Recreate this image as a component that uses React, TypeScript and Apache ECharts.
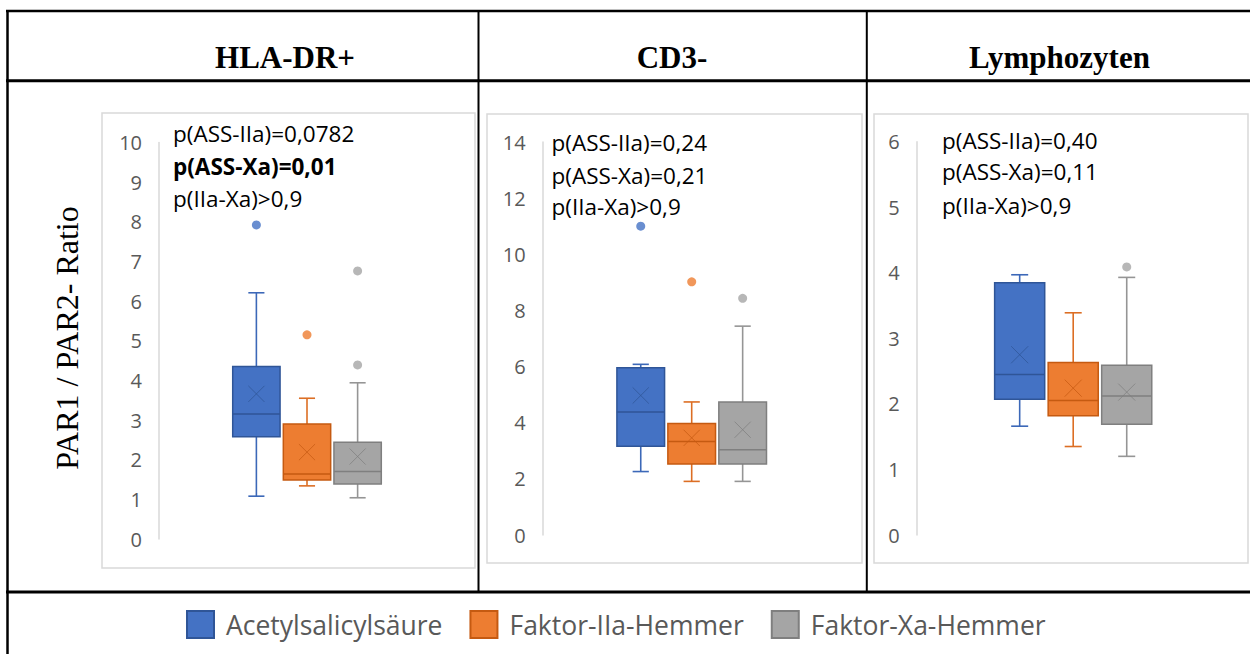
import React, { useEffect, useRef } from "react";
import * as echarts from "echarts";

// ---------- data ----------
const groupNames = ["Acetylsalicylsäure", "Faktor-IIa-Hemmer", "Faktor-Xa-Hemmer"];
const panelTitles = ["HLA-DR+", "CD3-", "Lymphozyten"];
const yAxisTitle = "PAR1 / PAR2- Ratio";

// box values per group: [min, q1, median, q3, max]
const hlaBoxes = [
  [1.08, 2.58, 3.15, 4.35, 6.21],
  [1.34, 1.49, 1.64, 2.9, 3.55],
  [1.04, 1.39, 1.7, 2.44, 3.94],
];
const hlaMeans = [3.66, 2.19, 2.08];
const hlaOutliers = [[7.92], [5.15], [6.76, 4.39]];
const hlaPValues = ["p(ASS-IIa)=0,0782", "p(ASS-Xa)=0,01", "p(IIa-Xa)>0,9"];
const hlaPBold = [false, true, false];

const cd3Boxes = [
  [2.26, 3.16, 4.38, 5.96, 6.08],
  [1.91, 2.53, 3.33, 3.97, 4.74],
  [1.91, 2.53, 3.04, 4.74, 7.44],
];
const cd3Means = [4.97, 3.46, 3.75];
const cd3Outliers = [[11.0], [9.02], [8.43]];
const cd3PValues = ["p(ASS-IIa)=0,24", "p(ASS-Xa)=0,21", "p(IIa-Xa)>0,9"];
const cd3PBold = [false, false, false];

const lymBoxes = [
  [1.66, 2.07, 2.45, 3.85, 3.97],
  [1.35, 1.82, 2.05, 2.63, 3.39],
  [1.2, 1.69, 2.12, 2.59, 3.93],
];
const lymMeans = [2.75, 2.24, 2.18];
const lymOutliers = [[], [], [4.09]];
const lymPValues = ["p(ASS-IIa)=0,40", "p(ASS-Xa)=0,11", "p(IIa-Xa)>0,9"];
const lymPBold = [false, false, false];

const yMaxes = [10, 14, 6];
const yIntervals = [1, 2, 1];

// ---------- styles / layout ----------
const groupColors = ["#4472C4", "#ED7D31", "#A5A5A5"];
const groupDark = ["#2F5597", "#C55A11", "#7F7F7F"];
const groupWhisker = ["#3C68B8", "#DC6E24", "#959595"];

const SPACING = 0.171;
const BOXW = 0.16;

const panelLayout = [
  { left: 159, width: 296, top: 142.5, bottom: 539, frame: [102, 113, 373, 455], titleX: 285, textX: 173, textY: [133, 166.5, 198.5] },
  { left: 542.7, width: 298, top: 142, bottom: 535, frame: [487, 114, 375, 449], titleX: 672, textX: 551.5, textY: [142.3, 175, 206.7] },
  { left: 916.7, width: 313, top: 141.7, bottom: 535, frame: [874, 114, 374, 449], titleX: 1059.5, textX: 942, textY: [140, 171.7, 205] },
];

const panels = [
  { boxes: hlaBoxes, means: hlaMeans, outliers: hlaOutliers, pv: hlaPValues, pb: hlaPBold },
  { boxes: cd3Boxes, means: cd3Means, outliers: cd3Outliers, pv: cd3PValues, pb: cd3PBold },
  { boxes: lymBoxes, means: lymMeans, outliers: lymOutliers, pv: lymPValues, pb: lymPBold },
];

const SANS = "'Open Sans', 'Noto Sans', sans-serif";
const SERIF = "'Liberation Serif', 'DejaVu Serif', serif";

function makeRenderItem(g: number) {
  return function (params: any, api: any) {
    const bw = params.coordSys.width;
    const cx = api.coord([0, 0])[0] + (g - 1) * bw * SPACING;
    const w = bw * BOXW;
    const yMin = api.coord([0, api.value(1)])[1];
    const yQ1 = api.coord([0, api.value(2)])[1];
    const yMed = api.coord([0, api.value(3)])[1];
    const yQ3 = api.coord([0, api.value(4)])[1];
    const yMax = api.coord([0, api.value(5)])[1];
    const yMean = api.coord([0, api.value(6)])[1];
    const cap = w * 0.17;
    const xs = w * 0.17;
    const wl = { stroke: groupWhisker[g], lineWidth: 1.6 };
    const dk = { stroke: groupDark[g], lineWidth: 1.5 };
    const xk = { stroke: groupDark[g], lineWidth: 1, opacity: 0.75 };
    return {
      type: "group",
      children: [
        { type: "line", shape: { x1: cx, y1: yQ3, x2: cx, y2: yMax }, style: wl },
        { type: "line", shape: { x1: cx, y1: yQ1, x2: cx, y2: yMin }, style: wl },
        { type: "line", shape: { x1: cx - cap, y1: yMax, x2: cx + cap, y2: yMax }, style: wl },
        { type: "line", shape: { x1: cx - cap, y1: yMin, x2: cx + cap, y2: yMin }, style: wl },
        {
          type: "rect",
          shape: { x: cx - w / 2, y: yQ3, width: w, height: yQ1 - yQ3 },
          style: { fill: groupColors[g], stroke: groupDark[g], lineWidth: 1.5 },
        },
        { type: "line", shape: { x1: cx - w / 2, y1: yMed, x2: cx + w / 2, y2: yMed }, style: dk },
        { type: "line", shape: { x1: cx - xs, y1: yMean - xs, x2: cx + xs, y2: yMean + xs }, style: xk },
        { type: "line", shape: { x1: cx - xs, y1: yMean + xs, x2: cx + xs, y2: yMean - xs }, style: xk },
      ],
    };
  };
}

function buildOption() {
  const grids: any[] = [];
  const xAxes: any[] = [];
  const yAxes: any[] = [];
  const series: any[] = [];
  const graphics: any[] = [];

  panels.forEach((p, pi) => {
    const L = panelLayout[pi];
    grids.push({ left: L.left, top: L.top, width: L.width, height: L.bottom - L.top });
    xAxes.push({ type: "category", gridIndex: pi, data: [panelTitles[pi]], show: false });
    yAxes.push({
      type: "value",
      gridIndex: pi,
      min: 0,
      max: yMaxes[pi],
      interval: yIntervals[pi],
      axisLine: { show: true, lineStyle: { color: "#D9D9D9", width: 1.5 } },
      axisTick: { show: false },
      splitLine: { show: false },
      axisLabel: { color: "#595959", fontSize: 20, fontFamily: SANS, margin: 17 },
    });
    for (let g = 0; g < 3; g++) {
      const b = p.boxes[g];
      series.push({
        type: "custom",
        name: groupNames[g],
        xAxisIndex: pi,
        yAxisIndex: pi,
        itemStyle: { color: groupColors[g], borderColor: groupDark[g] },
        renderItem: makeRenderItem(g),
        encode: { x: 0, y: [1, 2, 3, 4, 5, 6] },
        data: [[0, b[0], b[1], b[2], b[3], b[4], p.means[g]]],
        z: 3,
      });
      if (p.outliers[g].length) {
        series.push({
          type: "scatter",
          name: groupNames[g],
          xAxisIndex: pi,
          yAxisIndex: pi,
          symbol: "circle",
          symbolSize: 9,
          symbolOffset: [(g - 1) * L.width * SPACING, 0],
          itemStyle: { color: groupColors[g] },
          data: p.outliers[g].map((v) => [0, v]),
          z: 3,
        });
      }
    }
    // frame of each chart
    graphics.push({
      type: "rect",
      shape: { x: L.frame[0], y: L.frame[1], width: L.frame[2], height: L.frame[3] },
      style: { fill: "none", stroke: "#D9D9D9", lineWidth: 1.5 },
      z: 0,
    });
    // title
    graphics.push({
      type: "text",
      x: L.titleX,
      y: 73,
      style: {
        text: panelTitles[pi],
        fontFamily: SERIF,
        fontSize: 31,
        fontWeight: "bold",
        fill: "#000",
        textAlign: "center",
        textVerticalAlign: "bottom",
      },
    });
    p.pv.forEach((t, ti) => {
      graphics.push({
        type: "text",
        x: L.textX,
        y: L.textY[ti],
        style: {
          text: t,
          fontFamily: SANS,
          fontSize: 22.5,
          fontWeight: p.pb[ti] ? "bold" : "normal",
          fill: "#000",
          textAlign: "left",
          textVerticalAlign: "middle",
        },
        z: 5,
      });
    });
  });

  // y axis title (rotated)
  graphics.push({
    type: "text",
    x: 67,
    y: 338,
    rotation: Math.PI / 2,
    style: {
      text: yAxisTitle,
      fontFamily: SERIF,
      fontSize: 32,
      fill: "#000",
      textAlign: "center",
      textVerticalAlign: "middle",
    },
  });

  // table lines
  const black = (lw: number) => ({ stroke: "#000", lineWidth: lw });
  graphics.push({ type: "line", shape: { x1: 6, y1: 11, x2: 1250, y2: 11 }, style: black(2.5) });
  graphics.push({ type: "line", shape: { x1: 7.5, y1: 10, x2: 7.5, y2: 654 }, style: black(2.5) });
  graphics.push({ type: "line", shape: { x1: 6, y1: 80.7, x2: 1250, y2: 80.7 }, style: black(3) });
  graphics.push({ type: "line", shape: { x1: 478.5, y1: 11, x2: 478.5, y2: 592 }, style: black(2) });
  graphics.push({ type: "line", shape: { x1: 866.8, y1: 11, x2: 866.8, y2: 592 }, style: black(2) });
  graphics.push({ type: "line", shape: { x1: 6, y1: 592, x2: 1250, y2: 592 }, style: black(3) });

  return {
    animation: false,
    backgroundColor: "#ffffff",
    grid: grids,
    xAxis: xAxes,
    yAxis: yAxes,
    series,
    graphic: { elements: graphics },
    legend: {
      left: 181,
      top: 605,
      itemWidth: 27,
      itemHeight: 27,
      itemGap: 27,
      icon: "rect",
      textStyle: { fontSize: 26.5, fontFamily: SANS, color: "#595959", padding: [0, 0, 0, 7] },
      data: groupNames.map((n, i) => ({
        name: n,
        itemStyle: { color: groupColors[i], borderColor: groupDark[i], borderWidth: 2 },
      })),
    },
  };
}

export default function App() {
  const ref = useRef<HTMLDivElement>(null);
  useEffect(() => {
    if (!ref.current) return;
    const chart = echarts.init(ref.current, undefined, { renderer: "svg" });
    chart.setOption(buildOption() as any);
    return () => chart.dispose();
  }, []);
  return (
    <div
      ref={ref}
      style={{ position: "absolute", left: 0, top: 0, width: 1250, height: 654, background: "#fff" }}
    />
  );
}
